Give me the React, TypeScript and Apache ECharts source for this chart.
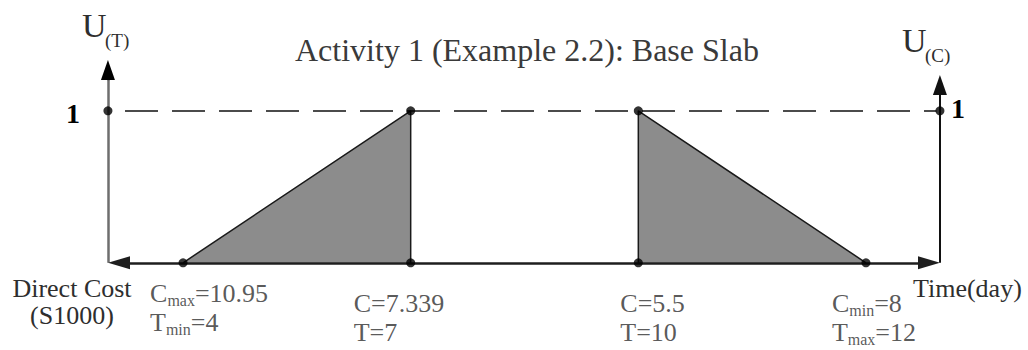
import { useEffect, useRef } from 'react';
import * as echarts from 'echarts';

// Schematic stations along the shared horizontal axis
const stations = [1, 2, 3, 4];
const timeDays = [4, 7, 10, 12];
const directCost = [10.95, 7.339, 5.5, 8];
const costTags = ['max', '', '', 'min'];
const timeTags = ['min', '', '', 'max'];
// Utility of time (triangle 1) and of cost (triangle 2)
const utilityT = [0, 1];
const utilityC = [1, 0];
const unity = 1;

const SERIF = "'Liberation Serif', 'Times New Roman', serif";
const INK = '#2e2e2e';

// Axis placement (in station units) and label offsets below each station
const T_AXIS = 0.67;
const C_AXIS = 4.325;
const labelOffsets = [
  [-33, 12],
  [-57, 22],
  [-18, 22],
  [-34, 22],
];

function stationLabel(i: number): string {
  const c = costTags[i] ? `{s|${costTags[i]}}` : '';
  const t = timeTags[i] ? `{s|${timeTags[i]}}` : '';
  return `{m|C}${c}{m|=${directCost[i]}}\n{m|T}${t}{m|=${timeDays[i]}}`;
}

function arrowLine(
  from: number[],
  to: number[],
  color: string,
  width: number,
  size: number[],
  startSymbol = 'none',
  endSymbol = 'triangle'
) {
  return {
    type: 'line',
    data: [],
    silent: true,
    z: 3,
    markLine: {
      silent: true,
      animation: false,
      symbol: [startSymbol, endSymbol],
      symbolSize: size,
      label: { show: false },
      emphasis: { disabled: true },
      lineStyle: { color, width, type: 'solid' },
      data: [[{ coord: from }, { coord: to }]],
    },
  };
}

function text(content: string, x: number, y: number, size: number, opts: any = {}) {
  return {
    type: 'text',
    x,
    y,
    silent: true,
    style: {
      text: content,
      fontFamily: SERIF,
      fontSize: size,
      fontWeight: opts.bold ? 'bold' : 'normal',
      fill: opts.fill || INK,
      align: opts.align || 'left',
      verticalAlign: 'middle',
      lineHeight: opts.lineHeight,
    },
  };
}

const option: any = {
  animation: false,
  title: {
    text: 'Activity 1 (Example 2.2): Base Slab',
    left: 290,
    top: 29,
    textStyle: { fontFamily: SERIF, fontSize: 32, fontWeight: 'normal', color: '#3a3a3a' },
  },
  grid: { left: 92, right: 71, top: 50, bottom: 72 },
  xAxis: { type: 'value', min: 0.6, max: 4.4, show: false },
  yAxis: { type: 'value', min: -0.1, max: 1.4, show: false },
  graphic: [
    text('U', 82, 25, 34),
    text('(T)', 105, 40, 19),
    text('U', 902, 40, 34),
    text('(C)', 925, 55, 19),
    text('1', 73, 113, 28, { bold: true, fill: '#000', align: 'center' }),
    text('1', 958, 108, 28, { bold: true, fill: '#000', align: 'center' }),
    text('(1)', 354, 223, 38, { align: 'center' }),
    text('(2)', 710, 225, 38, { align: 'center' }),
    text('Direct Cost\n(S1000)', 72, 302, 26, { align: 'center', lineHeight: 27 }),
    text('Time(day)', 913, 288, 26),
  ],
  series: [
    {
      type: 'line',
      name: 'U(T)',
      data: [
        [stations[0], utilityT[0]],
        [stations[1], utilityT[1]],
        [stations[1], 0],
      ],
      symbol: 'none',
      silent: true,
      z: 2,
      lineStyle: { color: '#1a1a1a', width: 1.5 },
      areaStyle: { color: '#8c8c8c', opacity: 1 },
    },
    {
      type: 'line',
      name: 'U(C)',
      data: [
        [stations[2], 0],
        [stations[2], utilityC[0]],
        [stations[3], utilityC[1]],
      ],
      symbol: 'none',
      silent: true,
      z: 2,
      lineStyle: { color: '#1a1a1a', width: 1.5 },
      areaStyle: { color: '#8c8c8c', opacity: 1 },
    },
    // U(T) axis: grey shaft with a black arrowhead
    arrowLine([T_AXIS, 0], [T_AXIS, 1.2], '#6e6e6e', 2.5, [14, 20], 'none', 'none'),
    arrowLine([T_AXIS, 1.2], [T_AXIS, 1.268], '#000', 2.5, [14, 20]),
    // U(C) axis
    arrowLine([C_AXIS, 0], [C_AXIS, 1.17], '#111', 2, [14, 20]),
    // Shared horizontal axis: direct cost to the left, time to the right
    arrowLine([0.7186, 0], [4.277, 0], '#1e1e1e', 2.5, [13, 22], 'triangle', 'triangle'),
    {
      type: 'line',
      data: [],
      silent: true,
      z: 3,
      markLine: {
        silent: true,
        animation: false,
        symbol: ['none', 'none'],
        label: { show: false },
        emphasis: { disabled: true },
        lineStyle: { color: '#111', width: 1.5, type: [33, 14] },
        data: [[{ coord: [0.745, unity] }, { coord: [4.31, unity] }]],
      },
    },
    {
      type: 'scatter',
      name: 'unity',
      silent: true,
      z: 5,
      symbolSize: 9,
      itemStyle: { color: '#000' },
      data: [
        [T_AXIS, unity],
        [stations[1], utilityT[1]],
        [stations[2], utilityC[0]],
        [C_AXIS, unity],
      ],
    },
    {
      type: 'scatter',
      name: 'stations',
      silent: true,
      z: 5,
      symbolSize: 9,
      itemStyle: { color: '#000' },
      label: {
        show: true,
        position: 'bottom',
        distance: 0,
        align: 'left',
        verticalAlign: 'top',
        formatter: (p: any) => stationLabel(p.dataIndex),
        rich: {
          m: { fontFamily: SERIF, fontSize: 26, color: INK, lineHeight: 29 },
          s: { fontFamily: SERIF, fontSize: 16, color: INK, lineHeight: 10, verticalAlign: 'bottom' },
        },
      },
      data: stations.map((s, i) => ({
        value: [s, 0],
        label: { offset: labelOffsets[i] },
      })),
    },
  ],
};

export default function App() {
  const ref = useRef<HTMLDivElement>(null);
  useEffect(() => {
    document.body.style.margin = '0';
    const chart = echarts.init(ref.current!, null, { renderer: 'svg' });
    chart.setOption(option);
    return () => chart.dispose();
  }, []);
  return <div ref={ref} style={{ width: 1028, height: 350 }} />;
}
